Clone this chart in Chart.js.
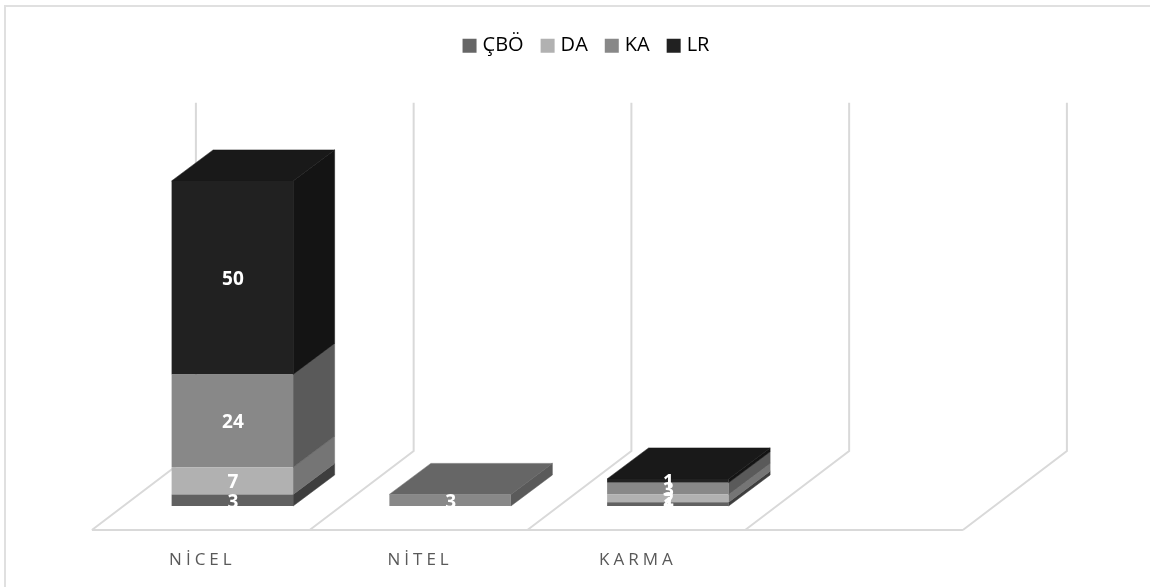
<!DOCTYPE html>
<html lang="tr">
<head>
<meta charset="utf-8">
<title>Yöntem dağılımı</title>
<style>
  html, body { margin: 0; padding: 0; background: #fff; }
  canvas { display: block; }
</style>
<script src="https://cdn.jsdelivr.net/npm/chart.js@4"></script>
</head>
<body>
<canvas id="chart" width="1150" height="587"></canvas>
<script>
// Categories and stacked series
const categories = ['NİCEL', 'NİTEL', 'KARMA', ''];
const seriesNames = ['ÇBÖ', 'DA', 'KA', 'LR'];
const cboValues = [3, null, 1, null];
const daValues = [7, null, 2, null];
const kaValues = [24, 3, 3, null];
const lrValues = [50, null, 1, null];
const axisMax = 90;

// Face shades per series
const frontColors = ['#616161', '#b1b1b1', '#888888', '#212121'];
const sideColors = ['#3e3e3e', '#757575', '#5a5a5a', '#141414'];
const topColors = ['#4a4a4a', '#8a8a8a', '#666666', '#191919'];
const legendColors = ['#666666', '#b1b1b1', '#888888', '#212121'];

// Oblique projection of the depth axis
const BAR_DEPTH = { x: 41.5, y: -31 };
const FLOOR_FRONT = { x: -31.6, y: 24 };
const FLOOR_BACK = { x: 72.4, y: -55 };
const WALL_COLOR = '#d9d9d9';
const FRAME_COLOR = '#e0e0e0';

// Frame, floor and back-wall lines, placed from the axes
const wallsPlugin = {
  id: 'walls',
  beforeDraw(chart) {
    const { ctx, width, height } = chart;
    const xs = chart.scales.x;
    const ys = chart.scales.y;
    const step = (xs.right - xs.left) / categories.length;
    const base = ys.getPixelForValue(0);
    const top = ys.getPixelForValue(axisMax);
    ctx.save();
    ctx.strokeStyle = FRAME_COLOR;
    ctx.lineWidth = 2;
    ctx.beginPath();
    ctx.moveTo(5, height);
    ctx.lineTo(5, 6);
    ctx.lineTo(width, 6);
    ctx.stroke();
    ctx.strokeStyle = WALL_COLOR;
    ctx.beginPath();
    ctx.moveTo(xs.left + FLOOR_FRONT.x, base + FLOOR_FRONT.y);
    ctx.lineTo(xs.right + FLOOR_FRONT.x, base + FLOOR_FRONT.y);
    for (let i = 0; i <= categories.length; i++) {
      const x = xs.left + i * step;
      ctx.moveTo(x + FLOOR_FRONT.x, base + FLOOR_FRONT.y);
      ctx.lineTo(x + FLOOR_BACK.x, base + FLOOR_BACK.y);
      ctx.lineTo(x + FLOOR_BACK.x, top + FLOOR_BACK.y);
    }
    ctx.stroke();
    ctx.restore();
  }
};

// Side and top faces extruded from each bar element
const extrudePlugin = {
  id: 'extrude',
  beforeDatasetsDraw(chart) {
    const { ctx } = chart;
    const d = BAR_DEPTH;
    const quad = (color, pts) => {
      ctx.fillStyle = color;
      ctx.strokeStyle = color;
      ctx.lineWidth = 0.5;
      ctx.beginPath();
      pts.forEach((p, i) => (i ? ctx.lineTo(p[0], p[1]) : ctx.moveTo(p[0], p[1])));
      ctx.closePath();
      ctx.fill();
      ctx.stroke();
    };
    ctx.save();
    categories.forEach((_, c) => {
      let last = -1;
      chart.data.datasets.forEach((ds, s) => {
        if (ds.data[c] == null) return;
        last = s;
        const el = chart.getDatasetMeta(s).data[c];
        const right = el.x + el.width / 2;
        quad(sideColors[s], [
          [right, el.base], [right + d.x, el.base + d.y],
          [right + d.x, el.y + d.y], [right, el.y]
        ]);
      });
      if (last >= 0) {
        const el = chart.getDatasetMeta(last).data[c];
        const left = el.x - el.width / 2;
        const right = el.x + el.width / 2;
        quad(topColors[last], [
          [left, el.y], [right, el.y],
          [right + d.x, el.y + d.y], [left + d.x, el.y + d.y]
        ]);
      }
    });
    ctx.restore();
  }
};

// White value labels on the front faces; category labels are spaced out afterwards
const valueLabelPlugin = {
  id: 'valueLabels',
  afterDatasetsDraw(chart) {
    const { ctx } = chart;
    ctx.save();
    ctx.font = 'bold 19px "Open Sans"';
    ctx.fillStyle = '#ffffff';
    ctx.textAlign = 'center';
    ctx.textBaseline = 'middle';
    chart.data.datasets.forEach((ds, s) => {
      chart.getDatasetMeta(s).data.forEach((el, c) => {
        if (ds.data[c] == null) return;
        ctx.fillText(String(ds.data[c]), el.x + 0.5, (el.y + el.base) / 2 + 2);
      });
    });
    ctx.restore();
    ctx.letterSpacing = '4px';
  },
  afterDraw(chart) {
    chart.ctx.letterSpacing = '0px';
  }
};

// Fixed-height legend band above the plot, centred on the frame
const legendBandPlugin = {
  id: 'legendBand',
  beforeLayout(chart) {
    const legend = chart.legend;
    if (legend.bandFitted) return;
    legend.bandFitted = true;
    const fit = legend.fit;
    legend.fit = function () {
      fit.call(this);
      this.height = 143;
    };
  },
  afterLayout(chart) {
    chart.legend.left += 29;
    chart.legend.right += 29;
  }
};

const valueSets = [cboValues, daValues, kaValues, lrValues];

new Chart(document.getElementById('chart'), {
  type: 'bar',
  data: {
    labels: categories,
    datasets: seriesNames.map((name, i) => ({
      label: name,
      data: valueSets[i],
      backgroundColor: frontColors[i],
      borderWidth: 0
    }))
  },
  options: {
    responsive: false,
    animation: false,
    layout: { padding: { left: 123.5, right: 155.5, top: 14.7, bottom: 0 } },
    datasets: { bar: { barPercentage: 0.558, categoryPercentage: 1 } },
    plugins: {
      tooltip: { enabled: false },
      legend: {
        position: 'top',
        align: 'center',
        labels: {
          boxWidth: 6,
          boxHeight: 6,
          padding: 21,
          color: '#595959',
          font: { family: '"Open Sans"', size: 20 },
          generateLabels: () => seriesNames.map((name, i) => ({
            text: name,
            fillStyle: legendColors[i],
            strokeStyle: legendColors[i],
            lineWidth: 8,
            datasetIndex: i
          }))
        }
      }
    },
    scales: {
      x: {
        stacked: true,
        grid: { display: false },
        border: { display: false },
        afterFit(scale) { scale.height = 81; },
        ticks: {
          z: 1,
          padding: 36,
          labelOffset: -30,
          autoSkip: false,
          maxRotation: 0,
          color: '#595959',
          font: { family: '"Open Sans"', size: 17 }
        }
      },
      y: {
        stacked: true,
        display: false,
        min: 0,
        max: axisMax
      }
    }
  },
  plugins: [wallsPlugin, extrudePlugin, valueLabelPlugin, legendBandPlugin]
});
</script>
</body>
</html>
